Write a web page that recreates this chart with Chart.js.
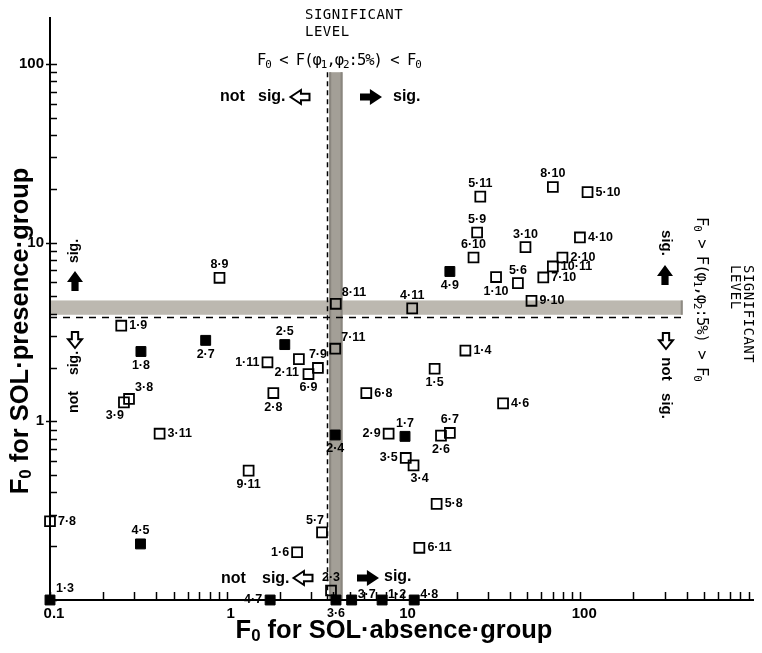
<!DOCTYPE html>
<html><head><meta charset="utf-8">
<script src="https://cdn.jsdelivr.net/npm/chart.js@4"></script>
<style>html,body{margin:0;padding:0;background:#fff}#wrap{width:762px;height:653px}</style>
</head><body><div id="wrap"><canvas id="c" width="762" height="653"></canvas></div>
<script>
// ---- data (F0 values) ----
const openLabels = ['8·9','8·11','1·9','5·11','8·10','5·10','5·9','3·10','4·10','6·10','2·10','10·11','1·10','5·6','7·10','9·10','4·11','7·11','7·9','2·11','6·9','1·5','1·4','6·8','4·6','2·9','2·6','6·7','3·5','3·4','5·8','6·11','5·7','1·6','2·3','1·11','2·8','3·8','3·9','3·11','9·11','7·8'];
const openX = [0.91,4.14,0.253,27.2,70.0,110,26.1,49.0,99.6,24.9,79.3,70.0,33.4,44.4,61.8,53.0,11.2,4.11,3.28,2.56,2.90,15.0,22.4,6.16,36.6,8.24,16.3,18.3,10.3,11.4,15.4,12.3,3.46,2.50,3.89,1.70,1.835,0.280,0.262,0.417,1.33,0.1];
const openY = [6.36,4.55,3.43,18.1,20.5,19.2,11.4,9.45,10.7,8.26,8.26,7.36,6.42,5.94,6.39,4.73,4.29,2.55,1.99,2.23,1.84,1.97,2.49,1.44,1.26,0.853,0.832,0.861,0.624,0.567,0.345,0.196,0.239,0.185,0.113,2.14,1.44,1.335,1.277,0.853,0.530,0.276];
const filledLabels = ['4·9','2·5','2·7','1·8','2·4','1·7','4·5','1·3','4·7','3·6','3·7','1·2','4·8'];
const filledX = [18.3,2.13,0.760,0.327,4.11,10.2,0.325,0.1,1.76,4.15,5.09,7.57,11.5];
const filledY = [6.90,2.69,2.84,2.46,0.839,0.824,0.206,0.1,0.1,0.1,0.1,0.1,0.1];
const xTickLabels = ['0.1','1','10','100'];
const yTickLabels = ['1','10','100'];
// significance level bands (F values)
const sigBandX = [3.80, 4.52];
const sigDashX = 3.71;
const sigBandY = [3.95, 4.75];
const sigDashY = 3.82;
const vBandTop = 90;
const hBandRight = 380;

// ---- label placement (style) ----
const labelPlacement = {
 '8·9':'t','8·11':'tr','1·9':'r','5·11':'t','8·10':'t','5·10':'r','5·9':'t','3·10':'t','4·10':'r','6·10':'t','2·10':'r','10·11':'r','1·10':'b','5·6':'t','7·10':'r','9·10':'r','4·11':'t','7·11':'tr','7·9':'t','2·11':'bl','6·9':'b','1·5':'b','1·4':'r','6·8':'r','4·6':'r','2·9':'l','2·6':'b','6·7':'t','3·5':'l','3·4':'br','5·8':'r','6·11':'r','5·7':'tl','1·6':'l','2·3':'t','1·11':'l','2·8':'b','3·8':'tr','3·9':'bl','3·11':'r','9·11':'b','7·8':'r',
 '4·9':'b','2·5':'t','2·7':'b','1·8':'b','2·4':'b','1·7':'t','4·5':'t','1·3':'tr','4·7':'l','3·6':'b','3·7':'ru','1·2':'ru','4·8':'ru'
};
const placeStyle = { t:['center',0,-13], b:['center',0,14], r:['left',8,0], l:['right',-8,0], tr:['left',6,-11], tl:['right',2,-12], bl:['right',0,13], br:['left',-3,13], ru:['left',6,-5] };

const SANS = '"Liberation Sans", Arial, sans-serif';
const MONO = '"DejaVu Sans Mono", monospace';

function isNiceLog(v){
  const e = Math.floor(Math.log10(v)+1e-9);
  const m = v/Math.pow(10,e);
  const r = Math.round(m);
  return Math.abs(m-r) < 1e-6 && r>=1 && r<=9;
}
function isPow10(v){ const l=Math.log10(v); return Math.abs(l-Math.round(l))<1e-6; }
function fmtPow(v){ return String(Number(Math.pow(10, Math.round(Math.log10(v))).toPrecision(1))); }

function arrow(ctx, cx, cy, angle, filled, L, hh){
  const sh = hh*0.45, hb = -L*0.05;
  ctx.save(); ctx.translate(cx,cy); ctx.rotate(angle);
  ctx.beginPath();
  ctx.moveTo(-L/2,-sh); ctx.lineTo(hb,-sh); ctx.lineTo(hb,-hh); ctx.lineTo(L/2,0);
  ctx.lineTo(hb,hh); ctx.lineTo(hb,sh); ctx.lineTo(-L/2,sh); ctx.closePath();
  if(filled){ ctx.fillStyle='#000'; ctx.fill(); }
  else { ctx.fillStyle='#fff'; ctx.fill(); ctx.lineWidth=2; ctx.strokeStyle='#000'; ctx.lineJoin='miter'; ctx.stroke(); }
  ctx.restore();
}

function setLS(ctx, v){ try{ ctx.letterSpacing=v; }catch(e){} }
// draw text made of pieces (sub = subscript), starting at x (left), baseline middle y
function pieces(ctx, parts, x, y, size, family, weight, subScale, subDy){
  let cx = x;
  parts.forEach(p=>{
    const s = p.sub ? size*subScale : size;
    ctx.font = (weight||'') + ' ' + s + 'px ' + family;
    ctx.textAlign='left'; ctx.textBaseline='middle';
    ctx.fillText(p.t, cx, y + (p.sub ? subDy : 0));
    cx += ctx.measureText(p.t).width;
  });
  return cx - x;
}
function piecesWidth(ctx, parts, size, family, weight, subScale){
  let w=0;
  parts.forEach(p=>{ const s=p.sub?size*subScale:size; ctx.font=(weight||'')+' '+s+'px '+family; w+=ctx.measureText(p.t).width; });
  return w;
}

const overlay = {
  id:'overlay',
  beforeDraw(chart){
    const ctx=chart.ctx, xs=chart.scales.x, ys=chart.scales.y, a=chart.chartArea;
    ctx.save();
    // horizontal band
    const hy1=ys.getPixelForValue(sigBandY[1]), hy0=ys.getPixelForValue(sigBandY[0]);
    const hxr=xs.getPixelForValue(hBandRight);
    ctx.fillStyle='#bcb8b0';
    ctx.fillRect(a.left+1, hy1, hxr-a.left-1, hy0-hy1);
    ctx.fillStyle='#8f8b84';
    ctx.fillRect(hxr-2, hy1, 2, hy0-hy1);
    // vertical band
    const vx0=xs.getPixelForValue(sigBandX[0]), vx1=xs.getPixelForValue(sigBandX[1]);
    const vyt=ys.getPixelForValue(vBandTop);
    ctx.fillStyle='#a39f97';
    ctx.fillRect(vx0, vyt, vx1-vx0, a.bottom-vyt);
    ctx.fillStyle='#8a867f';
    ctx.fillRect(vx0, vyt, 2, a.bottom-vyt);
    ctx.fillRect(vx1-2, vyt, 2, a.bottom-vyt);
    // dashed lines
    ctx.strokeStyle='#000'; ctx.lineWidth=1.5;
    ctx.setLineDash([5,4]);
    const dx=Math.round(xs.getPixelForValue(sigDashX))+0.5;
    ctx.beginPath(); ctx.moveTo(dx, vyt); ctx.lineTo(dx, a.bottom); ctx.stroke();
    ctx.setLineDash([7,6]);
    const dy=Math.round(ys.getPixelForValue(sigDashY))+0.5;
    ctx.beginPath(); ctx.moveTo(a.left, dy); ctx.lineTo(hxr, dy); ctx.stroke();
    ctx.restore();
  },
  beforeDatasetsDraw(chart){
    const ctx=chart.ctx, xs=chart.scales.x, ys=chart.scales.y, a=chart.chartArea;
    ctx.save(); ctx.strokeStyle='#000'; ctx.lineWidth=1.5;
    xs.ticks.forEach(t=>{
      const v=t.value; if(!isNiceLog(v)) return;
      const px=Math.round(xs.getPixelForValue(v))+0.5;
      if(px<a.left-1||px>a.right+1) return;
      ctx.beginPath(); ctx.moveTo(px,a.bottom); ctx.lineTo(px,a.bottom-8); ctx.stroke();
    });
    ys.ticks.forEach(t=>{
      const v=t.value; if(!isNiceLog(v)) return;
      const py=Math.round(ys.getPixelForValue(v))+0.5;
      if(py<a.top-1||py>a.bottom+1) return;
      ctx.beginPath(); ctx.moveTo(isPow10(v)?a.left-4:a.left,py); ctx.lineTo(a.left+7,py); ctx.stroke();
    });
    ctx.restore();
  },
  afterDatasetsDraw(chart){
    const ctx=chart.ctx;
    ctx.save();
    ctx.fillStyle='#000';
    // point labels
    [[0,openLabels],[1,filledLabels]].forEach(([di,labs])=>{
      const meta=chart.getDatasetMeta(di);
      meta.data.forEach((el,j)=>{
        const lab=labs[j]; const ps=placeStyle[labelPlacement[lab]||'r'];
        ctx.font='bold 12.5px '+SANS; ctx.textAlign=ps[0]; ctx.textBaseline='middle';
        ctx.fillText(lab, el.x+ps[1], el.y+ps[2]);
      });
    });
    // top annotations
    ctx.font='14px '+MONO; ctx.textAlign='left'; ctx.textBaseline='middle';
    setLS(ctx,'0.5px');
    ctx.fillText('SIGNIFICANT', 305, 15);
    ctx.fillText('LEVEL', 305, 32);
    const fLess=[{t:'F'},{t:'0',sub:true},{t:' < F('},{t:'φ'},{t:'1',sub:true},{t:','},{t:'φ'},{t:'2',sub:true},{t:':5%) < F'},{t:'0',sub:true}];
    const fMore=[{t:'F'},{t:'0',sub:true},{t:' > F('},{t:'φ'},{t:'1',sub:true},{t:','},{t:'φ'},{t:'2',sub:true},{t:':5%) > F'},{t:'0',sub:true}];
    setLS(ctx,'-1px');
    pieces(ctx, fLess, 257, 61, 15.5, MONO, '500', 0.7, 4);
    setLS(ctx,'0px');
    // not sig / sig (top)
    ctx.font='bold 16px '+SANS; ctx.textAlign='left'; ctx.textBaseline='middle';
    ctx.fillText('not', 220, 97); ctx.fillText('sig.', 258, 97); ctx.fillText('sig.', 393, 97);
    arrow(ctx, 300, 97, Math.PI, false, 19, 7);
    arrow(ctx, 371, 97, 0, true, 22, 8);
    // bottom
    ctx.font='bold 16px '+SANS; ctx.textAlign='left';
    ctx.fillText('not', 221, 579); ctx.fillText('sig.', 262, 579); ctx.fillText('sig.', 384, 577);
    arrow(ctx, 303, 578, Math.PI, false, 19, 7);
    arrow(ctx, 368, 578, 0, true, 22, 8);
    // left column (rotated -90)
    ctx.save(); ctx.font='bold 14px '+SANS; ctx.textAlign='center'; ctx.textBaseline='middle';
    ctx.translate(74,251); ctx.rotate(-Math.PI/2); ctx.fillText('sig.',0,0); ctx.restore();
    ctx.save(); ctx.font='bold 14px '+SANS; ctx.textAlign='center'; ctx.textBaseline='middle';
    ctx.translate(74,363); ctx.rotate(-Math.PI/2); ctx.fillText('sig.',0,0); ctx.restore();
    ctx.save(); ctx.font='bold 14px '+SANS; ctx.textAlign='center'; ctx.textBaseline='middle';
    ctx.translate(74,402); ctx.rotate(-Math.PI/2); ctx.fillText('not',0,0); ctx.restore();
    arrow(ctx, 75, 281, -Math.PI/2, true, 20, 8);
    arrow(ctx, 75, 340, Math.PI/2, false, 16, 7);
    // right column (rotated +90)
    ctx.save(); ctx.font='bold 15px '+SANS; ctx.textAlign='center'; ctx.textBaseline='middle';
    ctx.translate(666,243); ctx.rotate(Math.PI/2); ctx.fillText('sig.',0,0); ctx.restore();
    ctx.save(); ctx.font='bold 15px '+SANS; ctx.textAlign='center'; ctx.textBaseline='middle';
    ctx.translate(666,369); ctx.rotate(Math.PI/2); ctx.fillText('not',0,0); ctx.restore();
    ctx.save(); ctx.font='bold 15px '+SANS; ctx.textAlign='center'; ctx.textBaseline='middle';
    ctx.translate(666,406); ctx.rotate(Math.PI/2); ctx.fillText('sig.',0,0); ctx.restore();
    arrow(ctx, 665, 275, -Math.PI/2, true, 20, 8);
    arrow(ctx, 666, 341, Math.PI/2, false, 16, 7);
    // right formula + SIGNIFICANT LEVEL
    ctx.save(); ctx.translate(701,217); ctx.rotate(Math.PI/2);
    setLS(ctx,'-1px');
    pieces(ctx, fMore, 0, 0, 15.5, MONO, '500', 0.7, 4); ctx.restore();
    ctx.save(); ctx.font='14px '+MONO; ctx.textAlign='left'; ctx.textBaseline='middle';
    setLS(ctx,'0.5px');
    ctx.translate(748,265); ctx.rotate(Math.PI/2); ctx.fillText('SIGNIFICANT',0,0); ctx.restore();
    ctx.save(); ctx.font='14px '+MONO; ctx.textAlign='left'; ctx.textBaseline='middle';
    setLS(ctx,'0.5px');
    ctx.translate(735,265); ctx.rotate(Math.PI/2); ctx.fillText('LEVEL',0,0); ctx.restore();
    setLS(ctx,'0px');
    // axis titles
    const xt=[{t:'F'},{t:'0',sub:true},{t:' for SOL·absence·group'}];
    const yt=[{t:'F'},{t:'0',sub:true},{t:' for SOL·presence·group'}];
    const TS=25.5;
    let w=piecesWidth(ctx, xt, TS, SANS, 'bold', 0.66);
    pieces(ctx, xt, 394-w/2, 631, TS, SANS, 'bold', 0.66, 5);
    w=piecesWidth(ctx, yt, TS, SANS, 'bold', 0.66);
    ctx.save(); ctx.translate(21,331); ctx.rotate(-Math.PI/2);
    pieces(ctx, yt, -w/2, 0, TS, SANS, 'bold', 0.66, 5); ctx.restore();
    ctx.restore();
  }
};

const tickFont = {family:'"Liberation Sans", Arial, sans-serif', weight:'bold', size:15};
new Chart(document.getElementById('c'), {
  type:'scatter',
  data:{ datasets:[
    { label:'not significant pair', data: openX.map((x,i)=>({x, y: openY[i]})),
      pointStyle:'rect', pointRadius:7, pointHoverRadius:7, backgroundColor:'rgba(0,0,0,0)', borderColor:'#000', borderWidth:1.8, clip:false },
    { label:'significant pair', data: filledX.map((x,i)=>({x, y: filledY[i]})),
      pointStyle:'rect', pointRadius:7, pointHoverRadius:7, backgroundColor:'#000', borderColor:'#000', borderWidth:1, clip:false }
  ]},
  options:{
    responsive:false, animation:false, devicePixelRatio:1,
    layout:{ padding:{ top:18, left:0, right:0, bottom:0 } },
    plugins:{ legend:{display:false}, tooltip:{enabled:false} },
    scales:{
      x:{ type:'logarithmic', position:'bottom', min:0.1, max:952,
          grid:{display:false, drawTicks:false}, border:{display:true, color:'#000', width:2},
          ticks:{ autoSkip:false, maxRotation:0, padding:5, labelOffset:4, font:tickFont, color:'#000',
            callback:(v)=>{ if(!isPow10(v)) return ''; const s=fmtPow(v); return xTickLabels.includes(s)?s:''; } },
          title:{display:false},
          afterFit:(s)=>{ s.height=53; } },
      y:{ type:'logarithmic', position:'left', min:0.1, max:181,
          grid:{display:false, drawTicks:false}, border:{display:true, color:'#000', width:2},
          ticks:{ autoSkip:false, padding:6, font:tickFont, color:'#000',
            callback:(v)=>{ if(!isPow10(v)) return ''; const s=fmtPow(v); return yTickLabels.includes(s)?s:''; } },
          title:{display:false},
          afterFit:(s)=>{ s.width=50; } }
    }
  },
  plugins:[overlay]
});
</script></body></html>
